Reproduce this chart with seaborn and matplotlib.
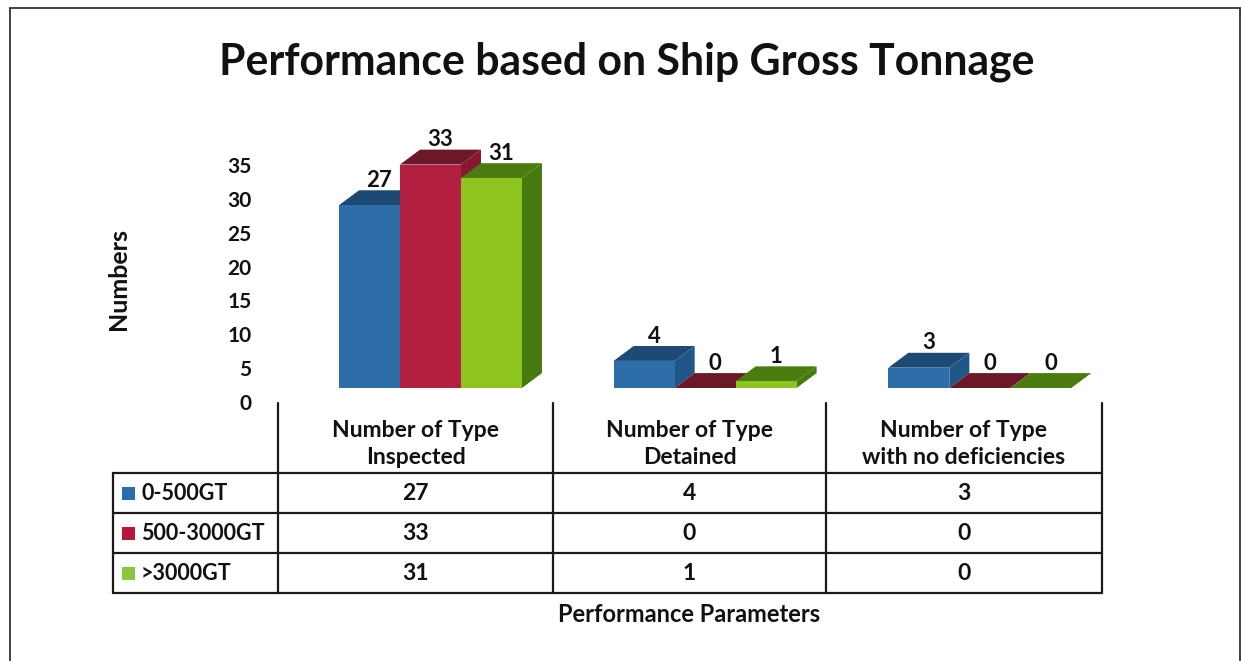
import matplotlib
matplotlib.use('Agg')
import matplotlib.pyplot as plt
import matplotlib.transforms as mtransforms
from matplotlib.patches import Polygon, Rectangle
from matplotlib.lines import Line2D
import pandas as pd
import seaborn as sns

# data
parameters = ['Number of Type\nInspected', 'Number of Type\nDetained', 'Number of Type\nwith no deficiencies']
tonnage = ['0-500GT', '500-3000GT', '>3000GT']
inspected = [27, 33, 31]
detained = [4, 0, 1]
no_deficiencies = [3, 0, 0]
y_ticks = [0, 5, 10, 15, 20, 25, 30, 35]

front_colors = ['#2d6ea8', '#b21f40', '#8ec41f']
top_colors = ['#1c4a75', '#6c1828', '#4c7c10']
side_colors = ['#1f5688', '#86182f', '#477a0e']
legend_colors = ['#2a6cb0', '#b5173f', '#8cc63f']

columns = [inspected, detained, no_deficiencies]
rows = []
for p, vals in zip(parameters, columns):
    for t, v in zip(tonnage, vals):
        rows.append({'param': p, 'tonnage': t, 'value': v})
df = pd.DataFrame(rows)

sns.set_theme(style='white')
plt.rcParams['font.family'] = ['Lato', 'DejaVu Sans']
plt.rcParams['font.weight'] = 'bold'

W, H = 1245, 661
fig = plt.figure(figsize=(W / 100, H / 100), dpi=100)
fig.patch.set_facecolor('white')

# overlay in pixel coordinates for title, table and frame
ov = fig.add_axes([0, 0, 1, 1], zorder=0)
ov.set_xlim(0, W)
ov.set_ylim(H, 0)
ov.axis('off')

# main plot area
ax_l, ax_r, ax_b, ax_t = 278, 1102, 388, 151
ax = fig.add_axes([ax_l / W, (H - ax_b) / H, (ax_r - ax_l) / W, (ax_b - ax_t) / H], zorder=2)
ax.patch.set_alpha(0)

sns.barplot(data=df, x='param', y='value', hue='tonnage', hue_order=tonnage,
            palette=front_colors, width=0.666, saturation=1, legend=False,
            edgecolor='none', linewidth=0, ax=ax)

ax.set_ylim(0, 35)
ax.set_xlim(-0.555, 2.445)
ax.set_yticks(y_ticks)
ax.set_xticks([])
ax.set_xlabel('')
ax.set_ylabel('Numbers', fontsize=18, fontweight='bold', color='#111111')
ax.yaxis.set_label_coords(-0.18, 0.46)
for s in ax.spines.values():
    s.set_visible(False)
ax.tick_params(axis='y', length=0, pad=19, labelsize=15, labelcolor='#111111')
shift = mtransforms.ScaledTranslation(0, -0.14, fig.dpi_scale_trans)
for lab in ax.get_yticklabels():
    lab.set_fontweight('bold')
    lab.set_transform(lab.get_transform() + shift)

# fake 3d depth on each bar
dx, dy = 0.073, 2.2
for hi, cont in enumerate(ax.containers):
    for patch in cont:
        x0 = patch.get_x()
        x1 = x0 + patch.get_width()
        h = patch.get_height()
        patch.set_zorder(3 + hi)
        top = Polygon([(x0, h), (x1, h), (x1 + dx, h + dy), (x0 + dx, h + dy)],
                      closed=True, facecolor=top_colors[hi], edgecolor='none',
                      zorder=2.5 + hi, clip_on=False)
        side = Polygon([(x1, 0), (x1 + dx, dy), (x1 + dx, h + dy), (x1, h)],
                       closed=True, facecolor=side_colors[hi], edgecolor='none',
                       zorder=2.5 + hi, clip_on=False)
        ax.add_patch(top)
        ax.add_patch(side)
        ax.annotate(f'{int(h)}', (x0 + patch.get_width() / 2 + dx / 2, h + dy),
                    xytext=(0, -0.5), textcoords='offset points', ha='center', va='bottom',
                    fontsize=16, fontweight='bold', color='#111111',
                    annotation_clip=False, zorder=10)

# title
ov.text(627, 62, 'Performance based on Ship Gross Tonnage', ha='center', va='center',
        fontsize=30.8, fontweight='bold', color='#111111')

# data table
col_edges = [113, 278, 553, 826, 1102]
row_edges = [473, 513, 553, 593]
line_kw = dict(color='#1a1a1a', lw=1.6)
for x in col_edges[1:]:
    ov.add_line(Line2D([x, x], [403, row_edges[-1]], **line_kw))
ov.add_line(Line2D([col_edges[0], col_edges[0]], [row_edges[0], row_edges[-1]], **line_kw))
for y in row_edges:
    ov.add_line(Line2D([col_edges[0], col_edges[-1]], [y, y], **line_kw))

for j, p in enumerate(parameters):
    cx = (col_edges[j + 1] + col_edges[j + 2]) / 2
    ov.text(cx, 444, p, ha='center', va='center', fontsize=16.5, fontweight='bold',
            color='#111111', linespacing=1.4)
    for i, v in enumerate(columns[j]):
        cy = (row_edges[i] + row_edges[i + 1]) / 2
        ov.text(cx, cy, str(v), ha='center', va='center', fontsize=16.5,
                fontweight='bold', color='#111111')

for i, t in enumerate(tonnage):
    cy = (row_edges[i] + row_edges[i + 1]) / 2
    ov.add_patch(Rectangle((122, cy - 6.5), 13, 13, facecolor=legend_colors[i], edgecolor='none'))
    ov.text(141, cy, t, ha='left', va='center', fontsize=15.5, fontweight='bold', color='#111111')

ov.text(689, 615, 'Performance Parameters', ha='center', va='center', fontsize=17,
        fontweight='bold', color='#111111')

# outer frame
frame_kw = dict(color='#333333', lw=1.3)
ov.add_line(Line2D([10, 10], [8, H], **frame_kw))
ov.add_line(Line2D([10, 1240], [8, 8], **frame_kw))
ov.add_line(Line2D([1240, 1240], [8, H], **frame_kw))

fig.savefig('out.png', dpi=100, facecolor='white')
